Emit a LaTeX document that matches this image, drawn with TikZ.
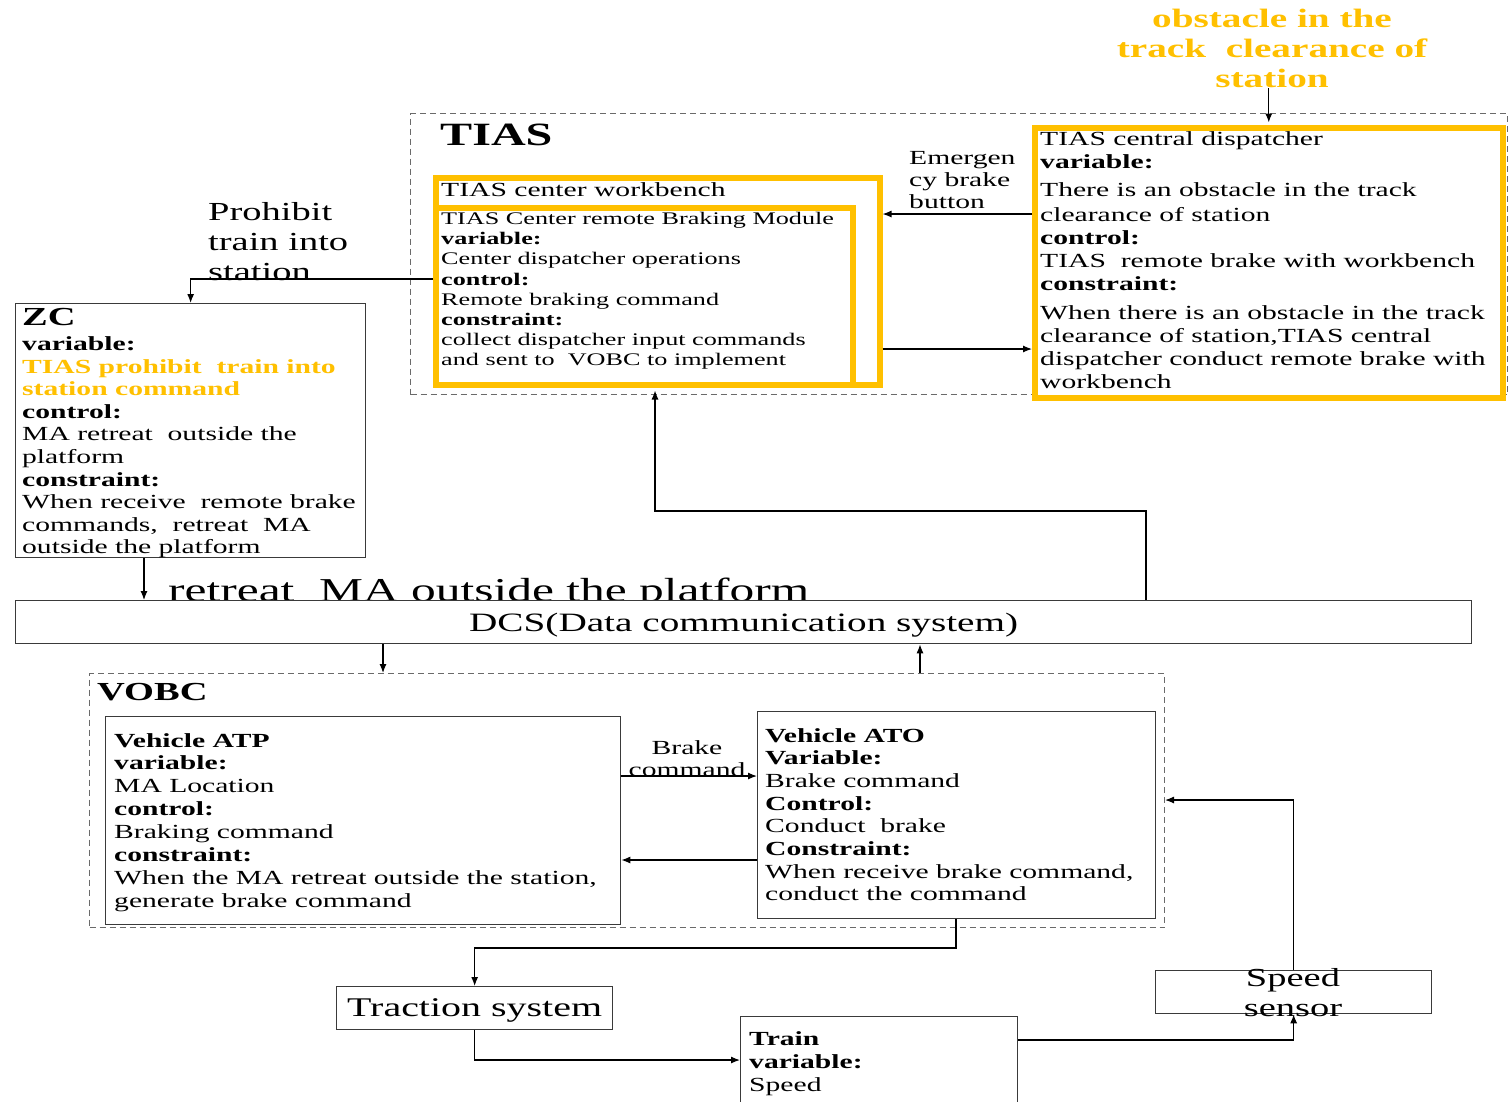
\documentclass[tikz,border=0pt]{standalone}
\usepackage{fontspec}
\setmainfont{Liberation Serif}[FakeStretch=1.48]
\usetikzlibrary{arrows.meta}
\definecolor{amber}{HTML}{FFC000}
\definecolor{edge}{HTML}{3A3A3A}
\definecolor{frame}{HTML}{6A6A6A}
\begin{document}
\begin{tikzpicture}[x=1pt,y=-1pt,
  sysbox/.style={draw=edge, line width=1.3pt, fill=white, inner sep=0pt, anchor=north west},
  ambbox/.style={draw=amber, line width=5.5pt, fill=white, inner sep=0pt, anchor=north west},
  grpbox/.style={draw=frame, line width=1pt, dash pattern=on 6pt off 4pt, inner sep=0pt, anchor=north west},
  txt/.style={inner sep=0pt, anchor=north west, align=left},
  body/.style={font=\fontsize{20}{23}\selectfont},
  conn/.style={draw=black, line width=1.2pt, -{Latex[length=9pt,width=7pt]}},
]
\fill[white] (0,0) rectangle (1509,1101);
\useasboundingbox (0,0) rectangle (1509,1101);

% ---------- group frames ----------
\node[grpbox, minimum width=1097, minimum height=281] (tias) at (410,113) {};
\node[grpbox, minimum width=1075, minimum height=254] (vobc) at (89,673) {};

\node[anchor=base west, inner sep=0pt, font=\bfseries\fontsize{32.5}{36}\selectfont] (tiaslbl) at (440,145) {TIAS};
\node[anchor=base west, inner sep=0pt, font=\bfseries\fontsize{26}{30}\selectfont] (vobclbl) at (97,700) {VOBC};

% ---------- TIAS ----------
\node[ambbox, minimum width=444, minimum height=207] (wb) at (433,175) {};
\node[ambbox, minimum width=417, minimum height=177] (mod) at (433,205) {};
\node[anchor=base west, inner sep=0pt, body] (wblbl) at (441,196) {TIAS center workbench};
\node[txt, font=\fontsize{17.7}{20.2}\selectfont] (modtxt) at (441,212) {TIAS Center remote Braking Module\\
\textbf{variable:}\\
Center dispatcher operations\\
\textbf{control:}\\
Remote braking command\\
\textbf{constraint:}\\
collect dispatcher input commands\\
and sent to\ \ VOBC to implement};

\node[ambbox, minimum width=468, minimum height=270] (disp) at (1032,125) {};
\node[txt, body] (disptxt) at (1040,131.5) {TIAS central dispatcher\\
\textbf{variable:}\\[5pt]
There is an obstacle in the track\\[2pt]
clearance of station\\
\textbf{control:}\\
TIAS\ \ remote brake with workbench\\
\textbf{constraint:}\\[6pt]
When there is an obstacle in the track\\
clearance of station,TIAS central\\
dispatcher conduct remote brake with\\
workbench};

\node[inner sep=0pt, anchor=north, align=center, text=amber, font=\bfseries\fontsize{26.5}{30}\selectfont] (obst) at (1272,9) {obstacle in the\\track\ \ clearance of\\station};

\node[txt, font=\fontsize{20}{22}\selectfont] (emerg) at (909,151) {Emergen\\cy brake\\button};

% ---------- ZC ----------
\node[txt, font=\fontsize{26}{30}\selectfont] (prohib) at (208,202) {Prohibit\\train into\\station};
\node[sysbox, minimum width=350, minimum height=254] (zc) at (15,303) {};
\node[anchor=base west, inner sep=0pt, font=\bfseries\fontsize{26}{30}\selectfont] (zclbl) at (22,325) {ZC};
\node[txt, font=\fontsize{20}{22.6}\selectfont] (zctxt) at (22,336.5) {\textbf{variable:}\\
\textcolor{amber}{\textbf{TIAS prohibit\ \ train into}}\\
\textcolor{amber}{\textbf{station command}}\\
\textbf{control:}\\
MA retreat\ \ outside the\\
platform\\
\textbf{constraint:}\\
When receive\ \ remote brake\\
commands,\ \ retreat\ \ MA\\
outside the platform};

% ---------- DCS ----------
\node[anchor=base west, inner sep=0pt, font=\fontsize{33.4}{36}\selectfont] (retreat) at (168,601) {retreat\ \ MA outside the platform};
\node[sysbox, minimum width=1456, minimum height=43] (dcs) at (15,600) {};
\node[anchor=base, inner sep=0pt, font=\fontsize{26.5}{30}\selectfont] (dcstxt) at (dcs.center |- 0,631) {DCS(Data communication system)};

% ---------- VOBC ----------
\node[sysbox, minimum width=515, minimum height=208] (atp) at (105,716) {};
\node[txt, font=\fontsize{20}{22.9}\selectfont] (atptxt) at (114,733) {\textbf{Vehicle ATP}\\
\textbf{variable:}\\
MA Location\\
\textbf{control:}\\
Braking command\\
\textbf{constraint:}\\
When the MA retreat outside the station,\\
generate brake command};

\node[sysbox, minimum width=398, minimum height=207] (ato) at (757,711) {};
\node[txt, font=\fontsize{20}{22.7}\selectfont] (atotxt) at (765,728) {\textbf{Vehicle ATO}\\
\textbf{Variable:}\\
Brake command\\
\textbf{Control:}\\
Conduct\ \ brake\\
\textbf{Constraint:}\\
When receive brake command,\\
conduct the command};

\node[inner sep=0pt, anchor=north, align=center, font=\fontsize{20}{22}\selectfont] (brk) at (687,740) {Brake\\command};

% ---------- plant ----------
\node[sysbox, minimum width=276, minimum height=43] (trac) at (336,986) {};
\node[anchor=base, inner sep=0pt, font=\fontsize{27}{30}\selectfont] (tractxt) at (trac.center |- 0,1016) {Traction system};
\node[sysbox, minimum width=277, minimum height=110] (train) at (740,1016) {};
\node[txt, font=\fontsize{20}{23}\selectfont] (traintxt) at (749,1031) {\textbf{Train}\\\textbf{variable:}\\Speed};
\node[sysbox, minimum width=276, minimum height=43] (spd) at (1155,970) {};
\node[inner sep=0pt, anchor=north, align=center, font=\fontsize{26}{30}\selectfont] (spdtxt) at (1293,968) {Speed\\sensor};

% ---------- connectors ----------
\draw[conn, shorten >=2.5pt] (obst.south -| disp.north) -- (disp.north);
\draw[conn] (disp.west |- 0,214) -- (wb.east |- 0,214);
\draw[conn] (wb.east |- 0,349) -- (disp.west |- 0,349);
\draw[conn] (mod.west |- 0,279) -| (zc.north);
\draw[conn] (zc.south -| 144,0) -- (dcs.north -| 144,0);
\draw[conn, shorten >=3pt] (dcs.north -| 1146,0) -- (1146,511) -| (mod.south -| 655,0);
\draw[conn] (dcs.south -| 383,0) -- (vobc.north -| 383,0);
\draw[conn] (vobc.north -| 920,0) -- (dcs.south -| 920,0);
\draw[conn] (atp.east |- 0,776) -- (ato.west |- 0,776);
\draw[conn] (ato.west |- 0,860) -- (atp.east |- 0,860);
\draw[conn] (ato.south -| 956,0) -- (956,948) -| (trac.north);
\draw[conn] (trac.south) |- (train.west |- 0,1060);
\draw[conn] (train.east |- 0,1040) -| (spd.south);
\draw[conn] (spd.north) |- (vobc.east |- 0,800);
\end{tikzpicture}
\end{document}
